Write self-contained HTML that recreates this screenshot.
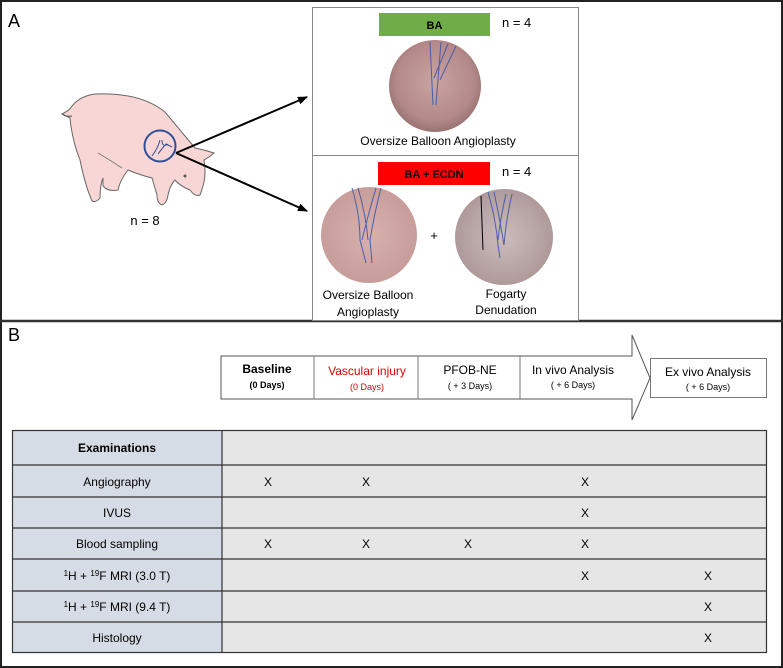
<!DOCTYPE html>
<html><head><meta charset="utf-8"><style>
body{margin:0;background:#fff;}
svg{display:block;}
text{font-family:"Liberation Sans",sans-serif;}
</style></head><body>
<svg width="783" height="668" viewBox="0 0 783 668" xmlns="http://www.w3.org/2000/svg">
<defs>
<radialGradient id="ph1" cx="50%" cy="45%" r="60%"><stop offset="0" stop-color="#c9a3a3"/><stop offset="0.7" stop-color="#b48989"/><stop offset="1" stop-color="#8f6a6a"/></radialGradient>
<radialGradient id="ph2" cx="50%" cy="50%" r="60%"><stop offset="0" stop-color="#d7b0ad"/><stop offset="1" stop-color="#c59a98"/></radialGradient>
<radialGradient id="ph3" cx="50%" cy="50%" r="60%"><stop offset="0" stop-color="#cdbcbc"/><stop offset="1" stop-color="#a89393"/></radialGradient>
<marker id="ah" markerWidth="10" markerHeight="8" refX="9" refY="4" orient="auto" markerUnits="userSpaceOnUse"><path d="M0,0 L10,4 L0,8 z" fill="#000"/></marker>
</defs>
<rect x="1" y="1" width="781" height="666" fill="#fff" stroke="#222" stroke-width="2"/>
<line x1="0" y1="321" x2="783" y2="321" stroke="#333" stroke-width="2.5"/>
<text x="8" y="27" font-size="18">A</text>
<!-- pig -->
<path d="M62,114 Q70,110 72,106 Q80,96 95,94 Q140,92 165,112 Q180,130 195,148 Q205,150 214,153 Q208,158 204,160 Q206,172 204,182 Q202,190 200,195 Q195,197 190,190 Q180,186 175,180 Q170,185 168,195 Q167,203 162,205 Q157,203 157,195 L152,178 Q140,175 128,170 Q120,180 118,190 Q108,192 103,186 L103,178 Q100,185 100,198 Q96,203 92,201 Q85,185 80,160 Q72,140 70,118 Z" fill="#f9d6d6" stroke="#666" stroke-width="1"/>
<path d="M62,114 Q66,117 72,116" stroke="#555" fill="none"/>
<path d="M98,153 Q110,160 122,168" stroke="#777" fill="none" stroke-width="0.8"/>
<circle cx="185" cy="176" r="1.5" fill="#555"/>
<circle cx="160" cy="146" r="15.5" fill="none" stroke="#2f4f9a" stroke-width="2"/>
<path d="M152,156 Q158,148 160,140 M158,154 Q164,146 166,144 L172,147 M162,140 Q162,148 168,144" stroke="#2f4f9a" fill="none" stroke-width="1"/>
<text x="145" y="225" font-size="13" text-anchor="middle">n = 8</text>
<line x1="176" y1="153" x2="307" y2="97" stroke="#000" stroke-width="2" marker-end="url(#ah)"/>
<line x1="176" y1="153" x2="307" y2="211" stroke="#000" stroke-width="2" marker-end="url(#ah)"/>
<!-- panel A boxes -->
<rect x="312.5" y="7.5" width="266" height="313" fill="#fff" stroke="#888"/>
<line x1="312" y1="155.5" x2="579" y2="155.5" stroke="#888"/>
<rect x="379" y="13" width="111" height="23" fill="#70ad47"/>
<text x="434.5" y="29" font-size="11" font-weight="bold" text-anchor="middle">BA</text>
<text x="502" y="27" font-size="13">n = 4</text>
<ellipse cx="435" cy="86" rx="46" ry="46" fill="url(#ph1)"/>
<path d="M430,42 L433,105 M441,42 L436,105 M456,46 L440,80 M448,44 L434,78" stroke="#4a5fa8" fill="none" stroke-width="1"/>
<text x="438" y="145" font-size="12" text-anchor="middle">Oversize Balloon Angioplasty</text>
<rect x="378" y="162" width="112" height="23" fill="#ff0000"/>
<text x="434" y="178" font-size="11" font-weight="bold" text-anchor="middle">BA + ECDN</text>
<text x="502" y="176" font-size="13">n = 4</text>
<ellipse cx="369" cy="235" rx="48" ry="48" fill="url(#ph2)"/>
<path d="M352,188 Q360,215 360,240 L366,263 M358,188 Q366,215 368,240 M381,188 Q374,215 370,240 L372,263 M376,188 Q368,215 362,240" stroke="#4a5fa8" fill="none" stroke-width="1"/>
<ellipse cx="504" cy="237" rx="49" ry="48" fill="url(#ph3)"/>
<path d="M488,192 Q496,220 498,245 L500,258 M494,192 Q500,220 504,245 M512,194 Q506,220 504,245 M506,194 Q500,220 498,240" stroke="#4a5fa8" fill="none" stroke-width="1"/>
<line x1="481" y1="196" x2="483" y2="250" stroke="#000" stroke-width="1"/>
<text x="434" y="240" font-size="13" text-anchor="middle">+</text>
<text x="368" y="299" font-size="12" text-anchor="middle">Oversize Balloon</text>
<text x="368" y="316" font-size="12" text-anchor="middle">Angioplasty</text>
<text x="506" y="298" font-size="12" text-anchor="middle">Fogarty</text>
<text x="506" y="314" font-size="12" text-anchor="middle">Denudation</text>
<!-- panel B -->
<text x="8" y="341" font-size="18">B</text>
<path d="M221,356 L632,356 L632,335 L650,378 L632,420 L632,399 L221,399 Z" fill="#fff" stroke="#555"/>
<line x1="314" y1="356" x2="314" y2="399" stroke="#777"/>
<line x1="418" y1="356" x2="418" y2="399" stroke="#777"/>
<line x1="520" y1="356" x2="520" y2="399" stroke="#777"/>
<text x="267" y="373" font-size="12" font-weight="bold" text-anchor="middle">Baseline</text>
<text x="267" y="388" font-size="9" font-weight="bold" text-anchor="middle">(0 Days)</text>
<text x="367" y="375" font-size="12" fill="#e00000" text-anchor="middle">Vascular injury</text>
<text x="367" y="390" font-size="9" fill="#e00000" text-anchor="middle">(0 Days)</text>
<text x="470" y="374" font-size="12" text-anchor="middle">PFOB-NE</text>
<text x="470" y="389" font-size="9" text-anchor="middle">( + 3 Days)</text>
<text x="573" y="374" font-size="12" text-anchor="middle">In vivo Analysis</text>
<text x="573" y="388" font-size="9" text-anchor="middle">( + 6 Days)</text>
<rect x="650.5" y="358.5" width="116" height="39" fill="#fff" stroke="#777"/>
<text x="708" y="376" font-size="12" text-anchor="middle">Ex vivo Analysis</text>
<text x="708" y="390" font-size="9" text-anchor="middle">( + 6 Days)</text>
<!-- table -->
<rect x="12" y="430" width="210" height="223" fill="#d6dce5"/>
<rect x="222" y="430" width="545" height="223" fill="#e7e6e6"/>
<g stroke="#333" stroke-width="1.2" fill="none">
<rect x="12.5" y="430.5" width="754" height="222"/>
<line x1="222" y1="430" x2="222" y2="653"/>
<line x1="12" y1="465" x2="767" y2="465"/>
<line x1="12" y1="497" x2="767" y2="497"/>
<line x1="12" y1="528" x2="767" y2="528"/>
<line x1="12" y1="559" x2="767" y2="559"/>
<line x1="12" y1="591" x2="767" y2="591"/>
<line x1="12" y1="622" x2="767" y2="622"/>
</g>
<g font-size="12" text-anchor="middle">
<text x="117" y="452" font-weight="bold">Examinations</text>
<text x="117" y="486">Angiography</text>
<text x="117" y="517">IVUS</text>
<text x="117" y="548">Blood sampling</text>
<text x="117" y="580"><tspan font-size="8" dy="-4">1</tspan><tspan dy="4">H + </tspan><tspan font-size="8" dy="-4">19</tspan><tspan dy="4">F MRI (3.0 T)</tspan></text>
<text x="117" y="611"><tspan font-size="8" dy="-4">1</tspan><tspan dy="4">H + </tspan><tspan font-size="8" dy="-4">19</tspan><tspan dy="4">F MRI (9.4 T)</tspan></text>
<text x="117" y="642">Histology</text>
<text x="268" y="486">X</text><text x="366" y="486">X</text><text x="585" y="486">X</text>
<text x="585" y="517">X</text>
<text x="268" y="548">X</text><text x="366" y="548">X</text><text x="468" y="548">X</text><text x="585" y="548">X</text>
<text x="585" y="580">X</text><text x="708" y="580">X</text>
<text x="708" y="611">X</text>
<text x="708" y="642">X</text>
</g>
</svg>
</body></html>
